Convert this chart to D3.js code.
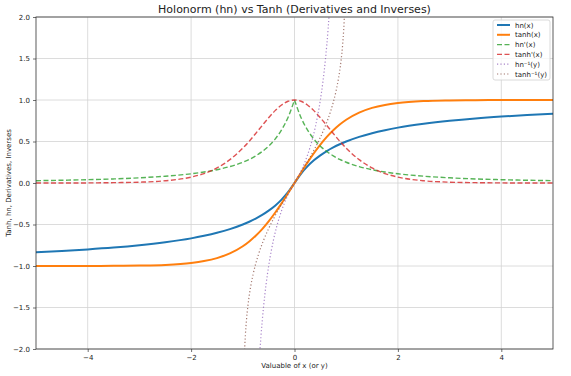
<!DOCTYPE html>
<html><head><meta charset="utf-8">
<script src="https://cdn.jsdelivr.net/npm/d3@7"></script>
<style>body{margin:0;background:#fff;font-family:"DejaVu Sans",sans-serif;}</style>
</head><body><svg id="c" width="571" height="376"></svg>
<script>
const xs = [-5,-4.5,-4,-3.5,-3,-2.5,-2,-1.75,-1.5,-1.25,-1,-0.875,-0.75,-0.625,-0.5,-0.375,-0.25,-0.125,0,0.125,0.25,0.375,0.5,0.625,0.75,0.875,1,1.25,1.5,1.75,2,2.5,3,3.5,4,4.5,5];
const hnVals = [-0.833,-0.818,-0.8,-0.778,-0.75,-0.714,-0.667,-0.636,-0.6,-0.556,-0.5,-0.467,-0.429,-0.385,-0.333,-0.273,-0.2,-0.111,0,0.111,0.2,0.273,0.333,0.385,0.429,0.467,0.5,0.556,0.6,0.636,0.667,0.714,0.75,0.778,0.8,0.818,0.833];
const tanhVals = [-1,-1,-0.999,-0.998,-0.995,-0.987,-0.964,-0.941,-0.905,-0.848,-0.762,-0.704,-0.635,-0.555,-0.462,-0.358,-0.245,-0.124,0,0.124,0.245,0.358,0.462,0.555,0.635,0.704,0.762,0.848,0.905,0.941,0.964,0.987,0.995,0.998,0.999,1,1];
const hnDeriv = [0.028,0.033,0.04,0.049,0.0625,0.082,0.111,0.132,0.16,0.198,0.25,0.284,0.327,0.379,0.444,0.529,0.64,0.79,1,0.79,0.64,0.529,0.444,0.379,0.327,0.284,0.25,0.198,0.16,0.132,0.111,0.082,0.0625,0.049,0.04,0.033,0.028];
const tanhDeriv = [0,0,0.001,0.004,0.01,0.027,0.071,0.114,0.181,0.281,0.42,0.504,0.597,0.692,0.786,0.872,0.94,0.985,1,0.985,0.94,0.872,0.786,0.692,0.597,0.504,0.42,0.281,0.181,0.114,0.071,0.027,0.01,0.004,0.001,0,0];
const ysHn = [-0.8,-0.75,-0.7,-0.65,-0.6,-0.55,-0.5,-0.4,-0.3,-0.2,-0.1,0,0.1,0.2,0.3,0.4,0.5,0.55,0.6,0.65,0.7,0.75,0.8];
const hnInv = [-4,-3,-2.333,-1.857,-1.5,-1.222,-1,-0.667,-0.429,-0.25,-0.111,0,0.111,0.25,0.429,0.667,1,1.222,1.5,1.857,2.333,3,4];
const ysTanh = [-0.98,-0.97,-0.95,-0.93,-0.9,-0.85,-0.8,-0.7,-0.6,-0.5,-0.4,-0.3,-0.2,-0.1,0,0.1,0.2,0.3,0.4,0.5,0.6,0.7,0.8,0.85,0.9,0.93,0.95,0.97,0.98];
const tanhInv = [-2.298,-2.092,-1.832,-1.658,-1.472,-1.256,-1.099,-0.867,-0.693,-0.549,-0.424,-0.31,-0.203,-0.1,0,0.1,0.203,0.31,0.424,0.549,0.693,0.867,1.099,1.256,1.472,1.658,1.832,2.092,2.298];
const xTicks = [-4,-2,0,2,4];
const yTicks = [-2,-1.5,-1,-0.5,0,0.5,1,1.5,2];
const labels = ["hn(x)","tanh(x)","hn'(x)","tanh'(x)","hn\u207B\u00B9(y)","tanh\u207B\u00B9(y)"];

const svg = d3.select("#c");
const L=36, R=553, T=17, B=349;
const x = d3.scaleLinear().domain([-5,5]).range([L,R]);
const y = d3.scaleLinear().domain([-2,2]).range([B,T]);

svg.append("defs").append("clipPath").attr("id","clip").append("rect")
  .attr("x",L).attr("y",T).attr("width",R-L).attr("height",B-T);

// grid
svg.append("g").selectAll("line").data(xTicks).join("line")
  .attr("x1",d=>x(d)).attr("x2",d=>x(d)).attr("y1",T).attr("y2",B)
  .attr("stroke","#d3d3d3").attr("stroke-width",0.8);
svg.append("g").selectAll("line").data(yTicks).join("line")
  .attr("y1",d=>y(d)).attr("y2",d=>y(d)).attr("x1",L).attr("x2",R)
  .attr("stroke","#d3d3d3").attr("stroke-width",0.8);

const fmt = d => d3.format(".1f")(d).replace("-","\u2212");
const xa = svg.append("g").attr("transform",`translate(0,${B})`)
  .call(d3.axisBottom(x).tickValues(xTicks).tickSize(3).tickPadding(3).tickFormat(d=>String(d).replace("-","\u2212")));
const ya = svg.append("g").attr("transform",`translate(${L},0)`)
  .call(d3.axisLeft(y).tickValues(yTicks).tickSize(3).tickPadding(3).tickFormat(fmt));
[xa,ya].forEach(a=>{a.select(".domain").remove();a.selectAll("text").attr("font-size",7).attr("font-family","DejaVu Sans").attr("fill","#222");a.selectAll("line").attr("stroke","#333").attr("stroke-width",0.7);});

const series = [
  {xv:xs, yv:hnVals, c:"#1f77b4", w:2, dash:null, op:1},
  {xv:xs, yv:tanhVals, c:"#ff7f0e", w:2, dash:null, op:1},
  {xv:xs, yv:hnDeriv, c:"#2ca02c", w:1.4, dash:"5,2.5", op:0.8, split:true},
  {xv:xs, yv:tanhDeriv, c:"#d62728", w:1.4, dash:"5,2.5", op:0.8},
  {xv:ysHn, yv:hnInv, c:"#9467bd", w:1.2, dash:"1.2,2.2", op:0.8},
  {xv:ysTanh, yv:tanhInv, c:"#8c564b", w:1.2, dash:"1.2,2.2", op:0.8}
];
const gL = svg.append("g").attr("clip-path","url(#clip)");
const line = d3.line().x(d=>x(d[0])).y(d=>y(d[1])).curve(d3.curveMonotoneX);
series.forEach(s=>{
  const pts = s.xv.map((v,i)=>[v,s.yv[i]]);
  const parts = s.split ? [pts.filter(p=>p[0]<=0), pts.filter(p=>p[0]>=0)] : [pts];
  parts.forEach(p=>{
    gL.append("path").attr("d",line(p)).attr("fill","none").attr("stroke",s.c)
      .attr("stroke-width",s.w).attr("stroke-dasharray",s.dash).attr("opacity",s.op);
  });
});

// frame
svg.append("rect").attr("x",L).attr("y",T).attr("width",R-L).attr("height",B-T)
  .attr("fill","none").attr("stroke","#333").attr("stroke-width",0.8);

// legend
const lg = svg.append("g");
lg.append("rect").attr("x",493).attr("y",20).attr("width",57).attr("height",60).attr("rx",2)
  .attr("fill","#fff").attr("fill-opacity",0.8).attr("stroke","#d0d0d0").attr("stroke-width",0.8);
series.forEach((s,i)=>{
  const yy = 25 + i*9.8;
  lg.append("line").attr("x1",497).attr("x2",510).attr("y1",yy).attr("y2",yy)
    .attr("stroke",s.c).attr("stroke-width",s.w).attr("stroke-dasharray",s.dash).attr("opacity",s.op);
  lg.append("text").attr("x",515).attr("y",yy+2.5).attr("font-size",7).attr("fill","#222").text(labels[i]);
});

svg.append("text").attr("x",(L+R)/2).attr("y",13).attr("text-anchor","middle")
  .attr("font-size",11).attr("fill","#222").text("Holonorm (hn) vs Tanh (Derivatives and Inverses)");
svg.append("text").attr("x",(L+R)/2).attr("y",368).attr("text-anchor","middle")
  .attr("font-size",7).attr("fill","#222").text("Valuable of x (or y)");
svg.append("text").attr("transform",`translate(11,${(T+B)/2}) rotate(-90)`).attr("text-anchor","middle")
  .attr("font-size",7).attr("fill","#222").text("Tanh, hn, Derivatives, Inverses");
</script></body></html>
